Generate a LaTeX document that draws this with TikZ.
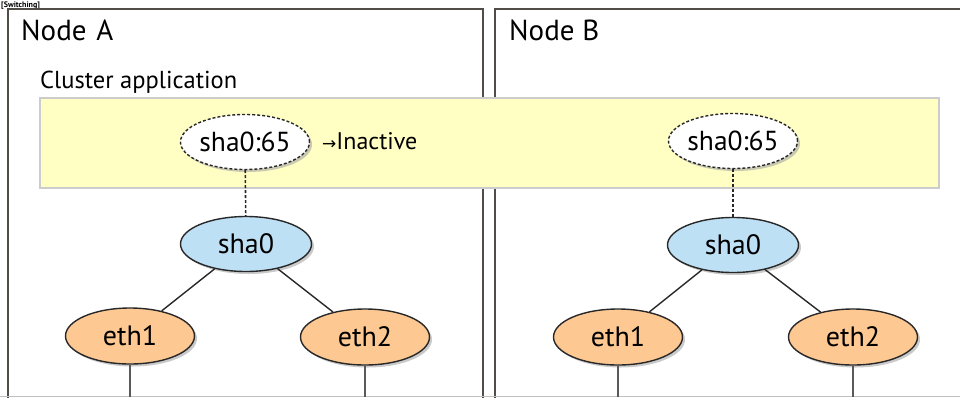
\documentclass[tikz,border=0pt]{standalone}
\usepackage{fontspec}
\setmainfont{PT Sans}
\newfontfamily\arrowfont{DejaVu Sans}
\usetikzlibrary{shapes.geometric,shadows}
\definecolor{bandfill}{RGB}{255,255,196}
\definecolor{blueish}{RGB}{190,224,245}
\definecolor{peach}{RGB}{253,200,145}
\definecolor{boxline}{RGB}{80,76,72}
\definecolor{inkline}{RGB}{40,40,40}
\begin{document}
\begin{tikzpicture}[x=1pt,y=-1pt,
  nodebox/.style={draw=boxline,line width=1.6pt},
  band/.style={draw=black!20,fill=bandfill,line width=1.6pt},
  shade/.style={drop shadow={shadow xshift=2.5pt,shadow yshift=-2.5pt,fill=black!35,opacity=0.6}},
  vip/.style={ellipse,draw=inkline,dash pattern=on 3pt off 2pt,line width=1.4pt,fill=white,
    minimum width=127pt,minimum height=55pt,inner sep=0pt,font=\fontsize{27.5}{27.5}\selectfont,shade},
  bond/.style={ellipse,draw=inkline,line width=1.4pt,fill=blueish,
    minimum width=131pt,minimum height=55pt,inner sep=0pt,font=\fontsize{28}{28}\selectfont,shade},
  nic/.style={ellipse,draw=inkline,line width=1.4pt,fill=peach,
    minimum width=129pt,minimum height=56pt,inner sep=0pt,font=\fontsize{28}{28}\selectfont,shade},
  link/.style={draw=inkline,line width=1.4pt},
  vlink/.style={draw=inkline,line width=1.6pt,dash pattern=on 3pt off 2pt},
  drop/.style={draw=black!65,line width=1.2pt},
  title/.style={anchor=base west,inner sep=0pt,font=\fontsize{29}{29}\selectfont},
  label/.style={anchor=base west,inner sep=0pt,font=\fontsize{24.5}{24.5}\selectfont}
]
\useasboundingbox (0,0) rectangle (960,397);
% heading, mostly above the visible area in the reference
\node[anchor=base west,inner sep=0pt,font=\bfseries\fontsize{8}{8}\selectfont] (hd) at (1,7) {[Switching]};
% node boxes
\draw[nodebox] (8,400) |- (483,9) -- (483,400);
\draw[nodebox] (495,400) |- (965,9);
\draw[black!25,line width=1pt] (0,396) -- (960,396);
\node[title] (na) at (21,40) {Node\,\,A};
\node[title] (nb) at (509,40) {Node B};
\node[label] (ca) at (40,88) {Cluster application};
% application band
\path[band] (40,98) rectangle (939,188);
% virtual interfaces
\node[vip] (va) at (245,142) {sha0:65};
\node[vip] (vb) at (733,141) {sha0:65};
\node[anchor=west,inner sep=0pt,font=\fontsize{24}{24}\selectfont] (ina) at (322,141) {{\arrowfont\fontsize{17}{17}\selectfont →}Inactive};
% bonding interfaces
\node[bond] (sa) at (246,244) {sha0};
\node[bond] (sb) at (733,245) {sha0};
% physical NICs
\node[nic] (a1) at (130,336) {eth1};
\node[nic] (a2) at (365,337) {eth2};
\node[nic] (b1) at (618,337) {eth1};
\node[nic] (b2) at (853,337) {eth2};
% free ends at bottom
\coordinate (a1e) at (130,397);
\coordinate (a2e) at (365,397);
\coordinate (b1e) at (618,397);
\coordinate (b2e) at (853,397);
% connectors
\draw[vlink] (va) -- (sa);
\draw[vlink] (vb) -- (sb);
\draw[link] (sa) -- (a1);
\draw[link] (sa) -- (a2);
\draw[link] (sb) -- (b1);
\draw[link] (sb) -- (b2);
\draw[drop] (a1.south) -- (a1e);
\draw[drop] (a2.south) -- (a2e);
\draw[drop] (b1.south) -- (b1e);
\draw[drop] (b2.south) -- (b2e);
\end{tikzpicture}
\end{document}
